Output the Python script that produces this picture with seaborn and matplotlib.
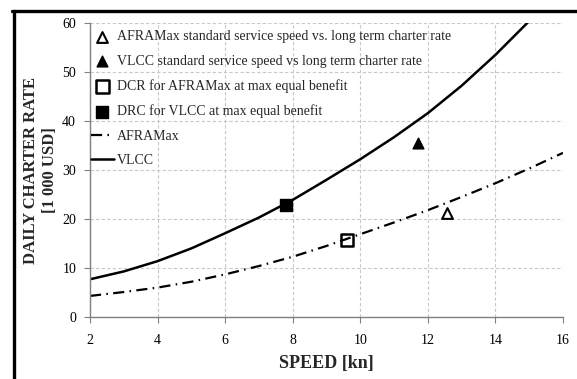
import matplotlib
matplotlib.use("Agg")
import matplotlib.pyplot as plt
import seaborn as sns
import pandas as pd
from matplotlib.lines import Line2D

# ---- data ----
speed = [2, 3, 4, 5, 6, 7, 8, 9, 10, 11, 12, 13, 14, 15, 16]
aframax_rate = [4.3, 5.1, 6.0, 7.2, 8.7, 10.4, 12.3, 14.5, 16.9, 19.3, 21.8, 24.5, 27.3, 30.3, 33.5]
vlcc_speed = [2, 3, 4, 5, 6, 7, 8, 9, 10, 11, 12, 13, 14, 15]
vlcc_rate = [7.7, 9.3, 11.4, 14.0, 17.1, 20.3, 23.9, 28.0, 32.2, 36.7, 41.6, 47.2, 53.5, 60.4]

afra_std_speed = [12.56]
afra_std_rate = [21.3]
vlcc_std_speed = [11.7]
vlcc_std_rate = [35.6]
dcr_afra_speed = [9.6]
dcr_afra_rate = [15.7]
drc_vlcc_speed = [7.8]
drc_vlcc_rate = [22.8]

x_ticks = [2, 4, 6, 8, 10, 12, 14, 16]
y_ticks = [0, 10, 20, 30, 40, 50, 60]

labels = [
    "AFRAMax standard service speed vs. long term charter rate",
    "VLCC standard service speed vs long term charter rate",
    "DCR for AFRAMax at max equal benefit",
    "DRC for VLCC at max equal benefit",
    "AFRAMax",
    "VLCC",
]

sns.set_theme(style="white")
plt.rcParams["font.family"] = ["Liberation Serif", "DejaVu Serif"]

fig = plt.figure(figsize=(5.77, 3.79), dpi=100)
ax = fig.add_axes([90 / 577, 62 / 379, 473 / 577, 294 / 379])

df_a = pd.DataFrame({"speed": speed, "rate": aframax_rate})
df_v = pd.DataFrame({"speed": vlcc_speed, "rate": vlcc_rate})

sns.lineplot(data=df_a, x="speed", y="rate", ax=ax, color="black", lw=1.6,
             linestyle=(0, (5, 2.4, 0.7, 2.4)), label=labels[4])
sns.lineplot(data=df_v, x="speed", y="rate", ax=ax, color="black", lw=1.8,
             label=labels[5])

sns.scatterplot(x=afra_std_speed, y=afra_std_rate, ax=ax, marker="^", s=60,
                facecolor="white", edgecolor="black", linewidth=1.5, label=labels[0], zorder=5)
sns.scatterplot(x=vlcc_std_speed, y=vlcc_std_rate, ax=ax, marker="^", s=60,
                color="black", edgecolor="black", linewidth=1.0, label=labels[1], zorder=5)
sns.scatterplot(x=dcr_afra_speed, y=dcr_afra_rate, ax=ax, marker="s", s=80,
                facecolor="none", edgecolor="black", linewidth=1.8, label=labels[2], zorder=5)
sns.scatterplot(x=drc_vlcc_speed, y=drc_vlcc_rate, ax=ax, marker="s", s=70,
                color="black", edgecolor="black", linewidth=1.0, label=labels[3], zorder=5)

ax.set_xlim(2, 16)
ax.set_ylim(0, 60)
ax.set_xticks(x_ticks)
ax.set_yticks(y_ticks)
ax.tick_params(axis="both", labelsize=10, colors="black", length=4, width=0.8,
               direction="out", color="#808080", bottom=True, left=True)
ax.tick_params(axis="y", pad=6)
ax.tick_params(axis="x", pad=8)

ax.grid(True, color="#c8c8c8", linestyle=(0, (3, 2)), linewidth=0.8)
for side in ["top", "right"]:
    ax.spines[side].set_visible(False)
for side in ["left", "bottom"]:
    ax.spines[side].set_color("#808080")
    ax.spines[side].set_linewidth(1.0)

ax.set_xlabel("SPEED [kn]", fontsize=13, fontweight="bold")
ax.set_ylabel("DAILY CHARTER RATE\n[1 000 USD]", fontsize=12, fontweight="bold",
              linespacing=1.3)
ax.xaxis.set_label_coords(0.5, -0.13)
ax.yaxis.set_label_coords(-0.067, 0.5)

h, l = ax.get_legend_handles_labels()
order = [l.index(t) for t in labels]
ax.legend([h[i] for i in order], [l[i] for i in order], loc="upper left",
          bbox_to_anchor=(-0.003, 0.984), frameon=False, fontsize=10,
          labelspacing=0.82, handlelength=1.6, handletextpad=0.25,
          borderaxespad=0.0, borderpad=0.2)

# figure border (left and top thick lines)
fig.add_artist(Line2D([13.5 / 577, 13.5 / 577], [0, 1 - 10.5 / 379], color="black", lw=2.4,
                      transform=fig.transFigure))
fig.add_artist(Line2D([12.3 / 577, 1], [1 - 11 / 379, 1 - 11 / 379], color="black", lw=2.4,
                      transform=fig.transFigure))

fig.savefig("out.png", dpi=100)
